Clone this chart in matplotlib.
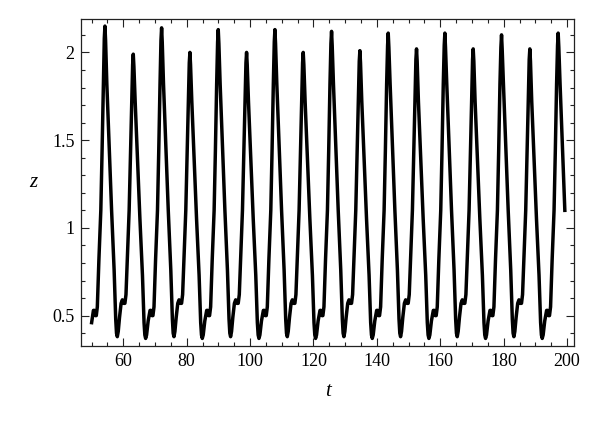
import matplotlib
matplotlib.use("Agg")
import matplotlib.pyplot as plt
from matplotlib.ticker import MultipleLocator

# z(t), one row per half cycle (peak -> notch)
t = [
    50.00, 50.57, 50.87, 51.17, 51.47,
    51.80, 52.30, 52.90, 53.30, 53.70, 54.00, 54.20, 54.40, 54.80, 55.60, 56.30, 57.10, 57.60, 57.85, 58.10, 58.40, 58.80, 59.30, 59.70, 60.10, 60.50,
    60.84, 61.34, 61.84, 62.24, 62.64, 62.94, 63.14, 63.34, 63.74, 64.54, 65.24, 66.04, 66.54, 66.79, 67.04, 67.34, 67.84, 68.44, 68.74, 69.04, 69.34,
    69.68, 70.18, 70.78, 71.18, 71.58, 71.88, 72.08, 72.28, 72.68, 73.48, 74.18, 74.98, 75.48, 75.73, 75.98, 76.28, 76.68, 77.18, 77.58, 77.98, 78.38,
    78.71, 79.21, 79.71, 80.11, 80.51, 80.81, 81.01, 81.21, 81.61, 82.41, 83.11, 83.91, 84.41, 84.66, 84.91, 85.21, 85.71, 86.31, 86.61, 86.91, 87.21,
    87.55, 88.05, 88.65, 89.05, 89.45, 89.75, 89.95, 90.15, 90.55, 91.35, 92.05, 92.85, 93.35, 93.60, 93.85, 94.15, 94.55, 95.05, 95.45, 95.85, 96.25,
    96.59, 97.09, 97.59, 97.99, 98.39, 98.69, 98.89, 99.09, 99.49, 100.29, 100.99, 101.79, 102.29, 102.54, 102.79, 103.09, 103.59, 104.19, 104.49, 104.79, 105.09,
    105.43, 105.93, 106.53, 106.93, 107.33, 107.63, 107.83, 108.03, 108.43, 109.23, 109.93, 110.73, 111.23, 111.48, 111.73, 112.03, 112.43, 112.93, 113.33, 113.73, 114.13,
    114.46, 114.96, 115.46, 115.86, 116.26, 116.56, 116.76, 116.96, 117.36, 118.16, 118.86, 119.66, 120.16, 120.41, 120.66, 120.96, 121.46, 122.06, 122.36, 122.66, 122.96,
    123.30, 123.80, 124.40, 124.80, 125.20, 125.50, 125.70, 125.90, 126.30, 127.10, 127.80, 128.60, 129.10, 129.35, 129.60, 129.90, 130.30, 130.80, 131.20, 131.60, 132.00,
    132.34, 132.84, 133.34, 133.74, 134.14, 134.44, 134.64, 134.84, 135.24, 136.04, 136.74, 137.54, 138.04, 138.29, 138.54, 138.84, 139.34, 139.94, 140.24, 140.54, 140.84,
    141.18, 141.68, 142.28, 142.68, 143.08, 143.38, 143.58, 143.78, 144.18, 144.98, 145.68, 146.48, 146.98, 147.23, 147.48, 147.78, 148.18, 148.68, 149.08, 149.48, 149.88,
    150.21, 150.71, 151.21, 151.61, 152.01, 152.31, 152.51, 152.71, 153.11, 153.91, 154.61, 155.41, 155.91, 156.16, 156.41, 156.71, 157.21, 157.81, 158.11, 158.41, 158.71,
    159.05, 159.55, 160.15, 160.55, 160.95, 161.25, 161.45, 161.65, 162.05, 162.85, 163.55, 164.35, 164.85, 165.10, 165.35, 165.65, 166.05, 166.55, 166.95, 167.35, 167.75,
    168.09, 168.59, 169.09, 169.49, 169.89, 170.19, 170.39, 170.59, 170.99, 171.79, 172.49, 173.29, 173.79, 174.04, 174.29, 174.59, 175.09, 175.69, 175.99, 176.29, 176.59,
    176.93, 177.43, 178.03, 178.43, 178.83, 179.13, 179.33, 179.53, 179.93, 180.73, 181.43, 182.23, 182.73, 182.98, 183.23, 183.53, 183.93, 184.43, 184.83, 185.23, 185.63,
    185.96, 186.46, 186.96, 187.36, 187.76, 188.06, 188.26, 188.46, 188.86, 189.66, 190.36, 191.16, 191.66, 191.91, 192.16, 192.46, 192.96, 193.56, 193.86, 194.16, 194.46,
    194.80, 195.30, 195.90, 196.30, 196.70, 197.00, 197.20, 197.40, 197.80, 198.60, 199.30,
]

z = [
    0.46, 0.53, 0.53, 0.50, 0.50,
    0.55, 0.82, 1.10, 1.44, 1.82, 2.08, 2.15, 2.07, 1.82, 1.44, 1.10, 0.76, 0.48, 0.40, 0.38, 0.41, 0.49, 0.57, 0.59, 0.57, 0.57,
    0.62, 0.86, 1.10, 1.40, 1.72, 1.93, 1.99, 1.92, 1.72, 1.36, 1.05, 0.73, 0.46, 0.39, 0.37, 0.39, 0.47, 0.53, 0.53, 0.50, 0.50,
    0.55, 0.82, 1.10, 1.44, 1.82, 2.07, 2.14, 2.06, 1.82, 1.44, 1.10, 0.76, 0.48, 0.40, 0.38, 0.41, 0.49, 0.57, 0.59, 0.57, 0.57,
    0.62, 0.86, 1.10, 1.40, 1.72, 1.94, 2.00, 1.93, 1.72, 1.36, 1.05, 0.73, 0.46, 0.39, 0.37, 0.39, 0.47, 0.53, 0.53, 0.50, 0.50,
    0.55, 0.82, 1.10, 1.44, 1.82, 2.06, 2.13, 2.05, 1.82, 1.44, 1.10, 0.76, 0.48, 0.40, 0.38, 0.41, 0.49, 0.57, 0.59, 0.57, 0.57,
    0.62, 0.86, 1.10, 1.40, 1.72, 1.94, 2.00, 1.93, 1.72, 1.36, 1.05, 0.73, 0.46, 0.39, 0.37, 0.39, 0.47, 0.53, 0.53, 0.50, 0.50,
    0.55, 0.82, 1.10, 1.44, 1.82, 2.06, 2.13, 2.05, 1.82, 1.44, 1.10, 0.76, 0.48, 0.40, 0.38, 0.41, 0.49, 0.57, 0.59, 0.57, 0.57,
    0.62, 0.86, 1.10, 1.40, 1.72, 1.94, 2.00, 1.93, 1.72, 1.36, 1.05, 0.73, 0.46, 0.39, 0.37, 0.39, 0.47, 0.53, 0.53, 0.50, 0.50,
    0.55, 0.82, 1.10, 1.44, 1.82, 2.05, 2.12, 2.04, 1.82, 1.44, 1.10, 0.76, 0.48, 0.40, 0.38, 0.41, 0.49, 0.57, 0.59, 0.57, 0.57,
    0.62, 0.86, 1.10, 1.40, 1.72, 1.95, 2.01, 1.94, 1.72, 1.36, 1.05, 0.73, 0.46, 0.39, 0.37, 0.39, 0.47, 0.53, 0.53, 0.50, 0.50,
    0.55, 0.82, 1.10, 1.44, 1.82, 2.04, 2.11, 2.03, 1.82, 1.44, 1.10, 0.76, 0.48, 0.40, 0.38, 0.41, 0.49, 0.57, 0.59, 0.57, 0.57,
    0.62, 0.86, 1.10, 1.40, 1.72, 1.96, 2.02, 1.95, 1.72, 1.36, 1.05, 0.73, 0.46, 0.39, 0.37, 0.39, 0.47, 0.53, 0.53, 0.50, 0.50,
    0.55, 0.82, 1.10, 1.44, 1.82, 2.04, 2.11, 2.03, 1.82, 1.44, 1.10, 0.76, 0.48, 0.40, 0.38, 0.41, 0.49, 0.57, 0.59, 0.57, 0.57,
    0.62, 0.86, 1.10, 1.40, 1.72, 1.96, 2.02, 1.95, 1.72, 1.36, 1.05, 0.73, 0.46, 0.39, 0.37, 0.39, 0.47, 0.53, 0.53, 0.50, 0.50,
    0.55, 0.82, 1.10, 1.44, 1.82, 2.03, 2.10, 2.02, 1.82, 1.44, 1.10, 0.76, 0.48, 0.40, 0.38, 0.41, 0.49, 0.57, 0.59, 0.57, 0.57,
    0.62, 0.86, 1.10, 1.40, 1.72, 1.96, 2.02, 1.95, 1.72, 1.36, 1.05, 0.73, 0.46, 0.39, 0.37, 0.39, 0.47, 0.53, 0.53, 0.50, 0.50,
    0.55, 0.82, 1.10, 1.44, 1.82, 2.04, 2.11, 2.03, 1.82, 1.44, 1.10,
]

xticks = [60, 80, 100, 120, 140, 160, 180, 200]
yticks = [0.5, 1, 1.5, 2]
yticklabels = ["0.5", "1", "1.5", "2"]

plt.rcParams['font.family'] = ['Liberation Serif', 'DejaVu Serif']

fig = plt.figure(figsize=(6, 4.24), dpi=100)
ax = fig.add_axes([0.1358, 0.184, 0.8209, 0.771])

ax.plot(t, z, color='black', lw=2.5, solid_joinstyle='round')

ax.set_xlim(46.8, 202.2)
ax.set_ylim(0.327, 2.19)

ax.set_xticks(xticks)
ax.set_yticks(yticks)
ax.set_yticklabels(yticklabels)
ax.xaxis.set_minor_locator(MultipleLocator(5))
ax.yaxis.set_minor_locator(MultipleLocator(0.1))

ax.tick_params(which='both', direction='in', top=True, right=True,
               labelsize=13, color='#222222', width=0.8)
ax.tick_params(which='major', length=5.5, pad=5)
ax.tick_params(which='minor', length=3)
for s in ax.spines.values():
    s.set_linewidth(0.9)
    s.set_color('#222222')

ax.set_xlabel('t', fontsize=15, style='italic')
ax.set_ylabel('z', fontsize=15, style='italic', rotation=0)
ax.xaxis.set_label_coords(0.5, -0.14)
ax.yaxis.set_label_coords(-0.098, 0.5)
ax.xaxis.label.set_va('center')
ax.yaxis.label.set_va('center')
ax.yaxis.label.set_ha('center')

fig.savefig('out.png', dpi=100)
